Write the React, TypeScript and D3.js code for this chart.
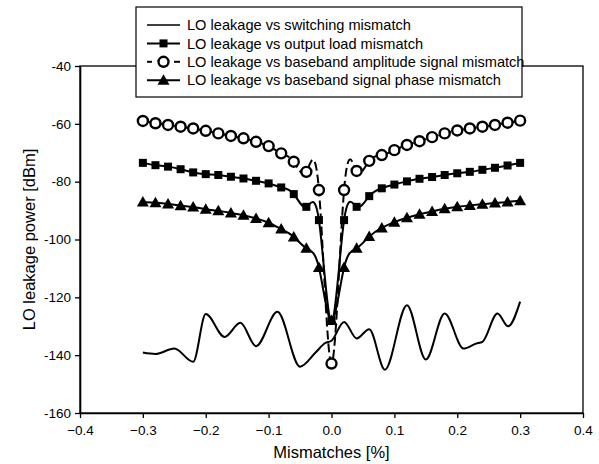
import React, { useEffect, useRef } from "react";
import * as d3 from "d3";

// mismatch values [%] shared by the three marker series
const mismatch = [
  -0.3, -0.28, -0.26, -0.24, -0.22, -0.2, -0.18, -0.16, -0.14, -0.12, -0.1, -0.08, -0.06, -0.04, -0.02,
  0,
  0.02, 0.04, 0.06, 0.08, 0.1, 0.12, 0.14, 0.16, 0.18, 0.2, 0.22, 0.24, 0.26, 0.28, 0.3,
];

const outputLoad = [
  -73.5, -74.3, -74.8, -75.7, -76.8, -77.4, -77.7, -78.3, -78.9, -79.7, -80.6, -82.0, -84.3, -88.7, -93.3,
  -128,
  -93.3, -88.7, -85.0, -82.3, -81.0, -79.9, -79.0, -78.4, -77.7, -77.1, -76.6, -75.9, -75.2, -74.4, -73.5,
];

const amplitude = [
  -59.0, -59.8, -60.4, -61.0, -61.6, -62.4, -63.3, -64.2, -65.0, -66.2, -67.7, -70.2, -73.1, -76.6, -82.9,
  -142.9,
  -82.9, -76.3, -72.8, -70.8, -69.1, -67.3, -66.0, -64.6, -63.3, -62.3, -61.6, -61.0, -60.4, -59.6, -58.9,
];

const phase = [
  -87.0, -87.3, -87.7, -88.3, -88.8, -89.5, -90.1, -90.8, -91.6, -92.7, -94.2, -96.4, -99.1, -103.0, -109.7,
  -128,
  -109.7, -103.0, -99.0, -96.0, -94.0, -92.5, -91.3, -90.3, -89.4, -88.7, -88.2, -87.8, -87.4, -87.0, -86.6,
];

// switching mismatch curve (no markers)
const switchingX = [
  -0.3, -0.28, -0.25, -0.22, -0.2, -0.17, -0.145, -0.12, -0.086, -0.05, -0.025, -0.01, 0, 0.02, 0.04, 0.06,
  0.085, 0.12, 0.15, 0.18, 0.21, 0.23, 0.24, 0.264, 0.281, 0.3,
];
const switchingY = [
  -139.1, -139.6, -137.7, -142.3, -125.8, -133.7, -128.8, -136.9, -125.0, -144.0, -139.0, -135.8, -135.0, -128.5,
  -134.2, -131.0, -145.0, -122.7, -141.5, -125.6, -137.7, -136.0, -135.4, -125.6, -130.0, -121.5,
];

const xTicks = [-0.4, -0.3, -0.2, -0.1, 0.0, 0.1, 0.2, 0.3, 0.4];
const yTicks = [-40, -60, -80, -100, -120, -140, -160];

const legendLabels = [
  "LO leakage vs switching mismatch",
  "LO leakage vs output load mismatch",
  "LO leakage vs baseband amplitude signal mismatch",
  "LO leakage vs baseband signal phase mismatch",
];

const font = "Liberation Sans, Arial, sans-serif";

const drawMarker = (g, kind, x, y) => {
  if (kind === "square") {
    g.append("rect")
      .attr("x", x - 4)
      .attr("y", y - 4)
      .attr("width", 8)
      .attr("height", 8)
      .attr("fill", "#000");
  } else if (kind === "circle") {
    g.append("circle")
      .attr("cx", x)
      .attr("cy", y)
      .attr("r", 5)
      .attr("fill", "#fff")
      .attr("stroke", "#000")
      .attr("stroke-width", 2.4);
  } else if (kind === "triangle") {
    g.append("path")
      .attr("d", `M${x},${y - 6}L${x + 6},${y + 4.5}L${x - 6},${y + 4.5}Z`)
      .attr("fill", "#000");
  }
};

const Chart = ({ width, height }) => {
  const svgRef = useRef(null);

  useEffect(() => {
    const svg = d3.select(svgRef.current);
    svg.selectAll("*").remove();

    const margin = { top: 66, right: 16, bottom: 51, left: 80 };
    const w = width - margin.left - margin.right;
    const h = height - margin.top - margin.bottom;

    const x = d3.scaleLinear().domain([-0.4, 0.4]).range([0, w]);
    const y = d3.scaleLinear().domain([-160, -40]).range([h, 0]);

    const g = svg.append("g").attr("transform", `translate(${margin.left},${margin.top})`);

    // frame
    g.append("rect")
      .attr("width", w)
      .attr("height", h)
      .attr("fill", "none")
      .attr("stroke", "#000")
      .attr("stroke-width", 1.3);

    // axes
    const xAxis = g
      .append("g")
      .attr("transform", `translate(0,${h})`)
      .call(d3.axisBottom(x).tickValues(xTicks).tickSize(5).tickSizeOuter(0).tickFormat(d3.format(".1f")));
    const yAxis = g
      .append("g")
      .call(d3.axisLeft(y).tickValues(yTicks).tickSize(5).tickSizeOuter(0).tickFormat((d) => String(d)));
    [xAxis, yAxis].forEach((a) => {
      a.select(".domain").attr("stroke-width", 1.6);
      a.selectAll("line").attr("stroke-width", 1.3);
      a.selectAll("text").attr("font-family", font).attr("font-size", 13.5).attr("fill", "#000");
    });
    xAxis.selectAll("text").attr("dy", "1.05em");
    yAxis.selectAll("text").attr("x", -9);

    // axis titles
    svg.append("text")
      .attr("x", margin.left + w / 2)
      .attr("y", 458)
      .attr("text-anchor", "middle")
      .attr("font-family", font)
      .attr("font-size", 16.5)
      .text("Mismatches [%]");
    svg.append("text")
      .attr("transform", `translate(35,${margin.top + h / 2}) rotate(-90)`)
      .attr("text-anchor", "middle")
      .attr("font-family", font)
      .attr("font-size", 16.5)
      .text("LO leakage power [dBm]");

    // switching mismatch curve
    const switchLine = d3
      .line()
      .x((d) => x(d[0]))
      .y((d) => y(d[1]))
      .curve(d3.curveMonotoneX);
    g.append("path")
      .datum(d3.zip(switchingX, switchingY))
      .attr("d", switchLine)
      .attr("fill", "none")
      .attr("stroke", "#000")
      .attr("stroke-width", 2);

    const splineLine = d3
      .line()
      .x((d, i) => x(mismatch[i]))
      .y((d) => y(d))
      .curve(d3.curveNatural);

    const series = [
      { values: outputLoad, marker: "square", dash: null },
      { values: amplitude, marker: "circle", dash: "9,4" },
      { values: phase, marker: "triangle", dash: null },
    ];

    series.forEach((s) => {
      g.append("path")
        .datum(s.values)
        .attr("d", splineLine)
        .attr("fill", "none")
        .attr("stroke", "#000")
        .attr("stroke-width", 2)
        .attr("stroke-dasharray", s.dash);
    });
    series.forEach((s) => {
      s.values.forEach((v, i) => drawMarker(g, s.marker, x(mismatch[i]), y(v)));
    });

    // legend
    const lg = svg.append("g").attr("transform", "translate(136,7)");
    lg.append("rect")
      .attr("width", 386)
      .attr("height", 90)
      .attr("fill", "#fff")
      .attr("stroke", "#000")
      .attr("stroke-width", 1.2);
    const kinds = [null, "square", "circle", "triangle"];
    legendLabels.forEach((label, i) => {
      const ly = 18 + i * 18.4;
      if (kinds[i] === "circle") {
        lg.append("line").attr("x1", 11).attr("x2", 16).attr("y1", ly).attr("y2", ly).attr("stroke", "#000").attr("stroke-width", 2);
        lg.append("line").attr("x1", 38).attr("x2", 44).attr("y1", ly).attr("y2", ly).attr("stroke", "#000").attr("stroke-width", 2);
      } else {
        lg.append("line")
          .attr("x1", 11)
          .attr("x2", 44)
          .attr("y1", ly)
          .attr("y2", ly)
          .attr("stroke", "#000")
          .attr("stroke-width", i === 0 ? 1.4 : 2);
      }
      if (kinds[i]) drawMarker(lg, kinds[i], 27.5, ly);
      lg.append("text")
        .attr("x", 51)
        .attr("y", ly)
        .attr("dy", "0.35em")
        .attr("font-family", font)
        .attr("font-size", 14.6)
        .text(label);
    });
  }, [width, height]);

  return <svg ref={svgRef} width={width} height={height} style={{ position: "absolute", left: 0, top: 0 }} />;
};

export default function App() {
  return <Chart width={599} height={464} />;
}
